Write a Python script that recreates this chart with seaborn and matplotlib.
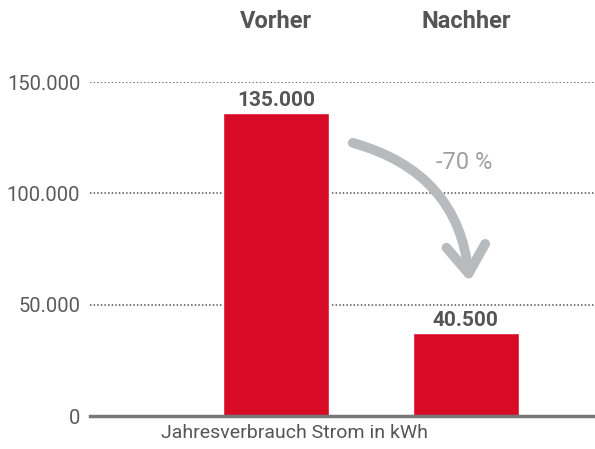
import matplotlib
matplotlib.use("Agg")
import matplotlib.pyplot as plt
import seaborn as sns
from matplotlib.patches import FancyArrowPatch
from matplotlib.transforms import blended_transform_factory

# data
categories = ["Vorher", "Nachher"]
bar_heights = [136000, 37400]          # heights as drawn
value_labels = ["135.000", "40.500"]   # printed values
y_ticks = [0, 50000, 100000, 150000]
y_tick_labels = ["0", "50.000", "100.000", "150.000"]
change_label = "-70 %"
x_title = "Jahresverbrauch Strom in kWh"

sns.set_theme(style="white")
plt.rcParams['font.family'] = ['Roboto', 'DejaVu Sans']

W, H = 595, 449
fig = plt.figure(figsize=(W / 100, H / 100), dpi=100)
ax = fig.add_axes([90 / W, (H - 416) / H, (595 - 90) / W, (416 - 82) / H])

sns.barplot(x=categories, y=bar_heights, color="#d80b27", width=0.56,
            saturation=1, ax=ax, zorder=3)

ax.set_xlim(-0.98, 1.68)
ax.set_ylim(0, 150000)
ax.set_yticks(y_ticks)
ax.set_yticklabels(y_tick_labels)
ax.tick_params(axis="y", length=0, pad=7, labelsize=14.5, labelcolor="#5a5a5a")
ax.set_xticks([])
ax.set_xlabel(x_title, fontsize=14, color="#555555", labelpad=6, x=0.405)
ax.set_ylabel("")

for s in ["top", "right", "left"]:
    ax.spines[s].set_visible(False)
ax.spines["bottom"].set_color("#777777")
ax.spines["bottom"].set_linewidth(2.5)
ax.spines["bottom"].set_zorder(4)

# dotted grid lines
for yv in y_ticks[1:]:
    ax.axhline(yv, color="#666666", linestyle=(0, (0.8, 1.2)), linewidth=1.3,
               dash_capstyle="butt", zorder=1)

# value labels above bars
for i, (h, lab) in enumerate(zip(bar_heights, value_labels)):
    ax.annotate(lab, (i, h), xytext=(0, 2), textcoords="offset points",
                ha="center", va="bottom", fontsize=15, fontweight="bold",
                color="#555555")

# column headers
trans = blended_transform_factory(ax.transData, fig.transFigure)
for i, c in enumerate(categories):
    ax.text(i, 1 - 21 / H, c, transform=trans, ha="center", va="center",
            fontsize=17, fontweight="bold", color="#555555")

# curved arrow
arrow = FancyArrowPatch((0.39, 123000), (1.02, 59000),
                        connectionstyle="arc3,rad=-0.35",
                        arrowstyle="->,head_length=1.0,head_width=0.7",
                        color="#b8bbbd", linewidth=7, mutation_scale=20,
                        zorder=5)
ax.add_patch(arrow)
ax.text(0.99, 114000, change_label, ha="center", va="center", fontsize=17,
        color="#a0a0a0")

fig.savefig("out.png", dpi=100)
